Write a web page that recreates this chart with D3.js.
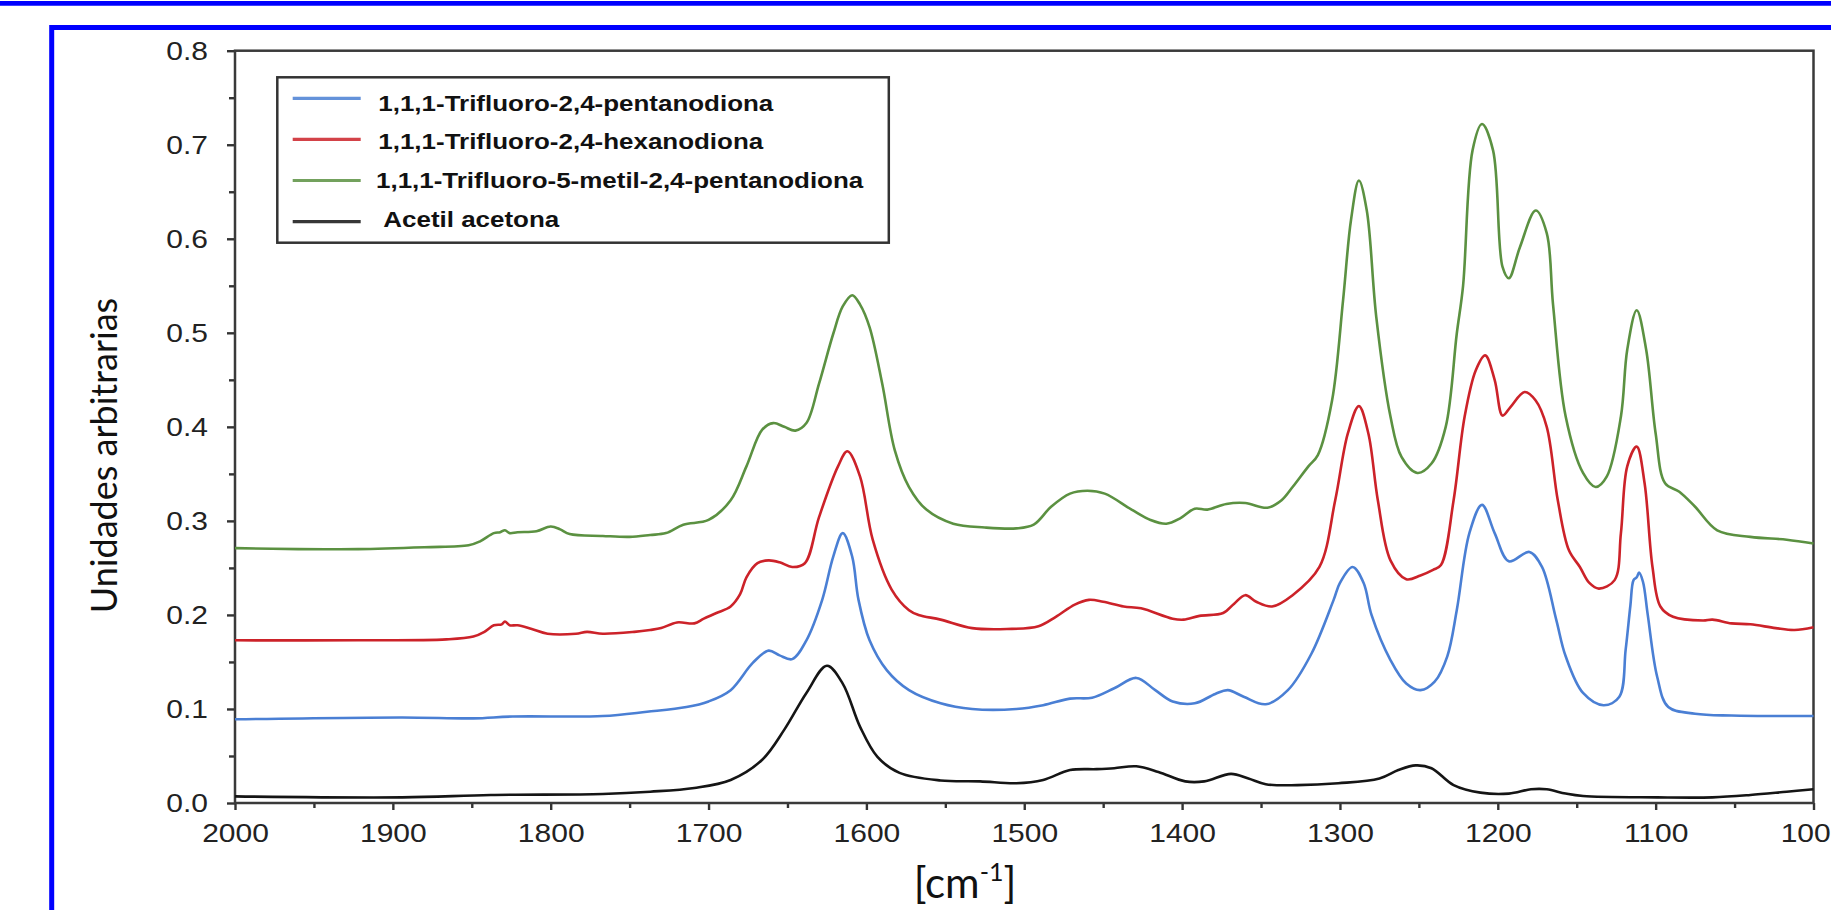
<!DOCTYPE html>
<html>
<head>
<meta charset="utf-8">
<script src="https://cdn.jsdelivr.net/npm/d3@7"></script>
<style>
  html, body { margin: 0; padding: 0; background: #ffffff; }
  svg { display: block; }
</style>
</head>
<body>
<svg id="chart" width="1831" height="910"></svg>
<script>
// ---------------- DATA ----------------
const seriesNames = [
  "1,1,1-Trifluoro-2,4-pentanodiona",
  "1,1,1-Trifluoro-2,4-hexanodiona",
  "1,1,1-Trifluoro-5-metil-2,4-pentanodiona",
  "Acetil acetona"
];
const seriesColors = ["#4a7fd4", "#cc2229", "#5b9141", "#151515"];

const xTicks = [2000, 1900, 1800, 1700, 1600, 1500, 1400, 1300, 1200, 1100, 1000];
const xMinorTicks = [1950, 1850, 1750, 1650, 1550, 1450, 1350, 1250, 1150, 1050];
const yTicks = [0, 0.1, 0.2, 0.3, 0.4, 0.5, 0.6, 0.7, 0.8];
const yMinorTicks = [0.05, 0.15, 0.25, 0.35, 0.45, 0.55, 0.65, 0.75];

const xTitle = "[cm";
const xTitleSup = "-1";
const xTitleEnd = "]";
const yTitle = "Unidades arbitrarias";

// [wavenumber cm-1, arbitrary units]
const bluePentanodiona = [
  [2000,0.089],[1894,0.091],[1849,0.090],[1824,0.092],[1767,0.0925],[1739,0.097],[1714,0.102],
  [1700,0.108],[1686,0.120],[1672,0.149],[1662,0.162],[1655,0.157],[1647,0.153],[1638,0.173],
  [1628,0.216],[1621,0.262],[1615,0.287],[1609,0.262],[1605,0.216],[1598,0.173],[1587,0.141],
  [1573,0.120],[1553,0.106],[1533,0.100],[1505,0.100],[1488,0.104],[1471,0.111],[1457,0.112],
  [1443,0.122],[1429,0.133],[1417,0.120],[1406,0.108],[1392,0.106],[1379,0.116],[1371,0.120],
  [1361,0.113],[1347,0.105],[1333,0.120],[1318,0.159],[1304,0.216],[1300,0.234],[1292,0.251],
  [1285,0.234],[1280,0.200],[1268,0.152],[1258,0.127],[1249,0.120],[1240,0.129],[1232,0.156],
  [1226,0.205],[1218,0.287],[1210,0.317],[1202,0.287],[1193,0.257],[1180,0.267],[1172,0.251],
  [1163,0.195],[1157,0.156],[1146,0.117],[1133,0.104],[1123,0.113],[1119,0.163],[1116,0.210],
  [1114,0.237],[1112,0.240],[1110.5,0.245],[1108,0.235],[1105,0.200],[1099,0.134],[1092,0.102],
  [1075,0.095],[1052,0.093],[1000,0.0925]
];

const redHexanodiona = [
  [2000,0.173],[1922,0.173],[1866,0.174],[1849,0.177],[1842,0.182],[1836,0.189],[1831,0.190],
  [1829,0.193],[1826,0.189],[1821,0.189],[1812,0.185],[1802,0.180],[1784,0.180],[1777,0.182],
  [1767,0.180],[1747,0.182],[1737,0.184],[1730,0.186],[1720,0.192],[1709,0.191],[1703,0.196],
  [1695,0.202],[1686,0.209],[1680,0.222],[1676,0.240],[1669,0.255],[1662,0.258],[1655,0.256],
  [1647,0.251],[1639,0.255],[1630,0.304],[1618,0.358],[1612,0.374],[1604,0.347],[1596,0.280],
  [1584,0.227],[1573,0.205],[1567,0.200],[1553,0.195],[1533,0.186],[1511,0.185],[1491,0.188],
  [1480,0.198],[1468,0.211],[1459,0.216],[1450,0.214],[1437,0.209],[1426,0.207],[1406,0.196],
  [1399,0.195],[1389,0.199],[1374,0.202],[1367,0.212],[1360,0.221],[1353,0.214],[1343,0.209],
  [1330,0.221],[1313,0.251],[1303,0.322],[1295,0.393],[1288,0.422],[1282,0.393],[1276,0.322],
  [1268,0.258],[1258,0.238],[1249,0.242],[1241,0.248],[1236,0.253],[1228,0.322],[1221,0.411],
  [1214,0.460],[1208,0.476],[1202,0.450],[1197,0.412],[1192,0.421],[1183,0.437],[1176,0.428],
  [1169,0.400],[1162,0.322],[1155,0.269],[1148,0.251],[1142,0.234],[1136,0.228],[1126,0.237],
  [1122,0.287],[1118,0.358],[1112,0.379],[1107,0.340],[1102,0.251],[1097,0.209],[1089,0.198],
  [1070,0.194],[1064,0.195],[1052,0.191],[1040,0.190],[1024,0.186],[1012,0.184],[1000,0.187]
];

const greenMetilPentanodiona = [
  [2000,0.271],[1960,0.270],[1922,0.270],[1880,0.272],[1852,0.274],[1845,0.278],[1836,0.287],
  [1832,0.288],[1829,0.290],[1826,0.287],[1821,0.288],[1809,0.289],[1800,0.294],[1794,0.291],
  [1788,0.286],[1767,0.284],[1750,0.283],[1737,0.285],[1727,0.287],[1716,0.296],[1700,0.301],
  [1686,0.322],[1676,0.358],[1666,0.397],[1659,0.404],[1652,0.400],[1645,0.396],[1638,0.404],
  [1630,0.446],[1621,0.499],[1615,0.528],[1609,0.540],[1604,0.530],[1598,0.506],[1590,0.446],
  [1582,0.375],[1573,0.336],[1562,0.312],[1545,0.297],[1525,0.293],[1505,0.292],[1494,0.296],
  [1483,0.315],[1471,0.329],[1460,0.332],[1449,0.329],[1432,0.312],[1420,0.301],[1410,0.297],
  [1401,0.303],[1392,0.313],[1384,0.312],[1372,0.318],[1360,0.319],[1346,0.314],[1337,0.322],
  [1330,0.336],[1320,0.358],[1314,0.370],[1305,0.428],[1298,0.535],[1293,0.620],[1288,0.662],
  [1283,0.630],[1277,0.517],[1268,0.411],[1261,0.368],[1251,0.351],[1242,0.361],[1233,0.400],
  [1226,0.499],[1222,0.550],[1216,0.694],[1210,0.722],[1203,0.694],[1197,0.570],[1193,0.558],
  [1186,0.591],[1176,0.630],[1169,0.606],[1165,0.530],[1157,0.411],[1146,0.351],[1138,0.336],
  [1131,0.347],[1122,0.411],[1118,0.482],[1112,0.524],[1106,0.482],[1100,0.393],[1094,0.340],
  [1085,0.331],[1075,0.315],[1061,0.290],[1040,0.283],[1017,0.280],[1000,0.276]
];

const blackAcetilAcetona = [
  [2000,0.007],[1894,0.006],[1838,0.0085],[1767,0.0096],[1737,0.012],[1709,0.016],[1686,0.0245],
  [1666,0.046],[1652,0.078],[1638,0.117],[1625,0.146],[1615,0.127],[1604,0.081],[1593,0.049],
  [1579,0.032],[1553,0.024],[1528,0.023],[1505,0.021],[1488,0.0245],[1471,0.035],[1454,0.036],
  [1443,0.037],[1429,0.039],[1415,0.033],[1398,0.023],[1386,0.023],[1369,0.031],[1358,0.026],
  [1347,0.020],[1327,0.019],[1301,0.021],[1275,0.026],[1263,0.035],[1252,0.040],[1242,0.037],
  [1228,0.019],[1211,0.011],[1193,0.010],[1179,0.0146],[1169,0.0146],[1157,0.010],[1146,0.0074],
  [1099,0.006],[1064,0.006],[1040,0.0085],[1017,0.012],[1000,0.0146]
];

const seriesData = [bluePentanodiona, redHexanodiona, greenMetilPentanodiona, blackAcetilAcetona];

// ---------------- DRAWING ----------------
const W = 1831, H = 910;
const svg = d3.select("#chart");
const STRETCH = 1.2; // the original picture is stretched horizontally
const tickFont = "'Liberation Sans', Arial, sans-serif";

svg.append("rect").attr("width", W).attr("height", H).attr("fill", "#ffffff");

// blue slide frame
svg.append("line").attr("x1", 0).attr("x2", W).attr("y1", 3.3).attr("y2", 3.3)
  .attr("stroke", "#0000ff").attr("stroke-width", 4.7);
svg.append("path").attr("d", `M51.7,${H + 10} V27.5 H${W + 10}`)
  .attr("fill", "none").attr("stroke", "#0000ff").attr("stroke-width", 5);

const x = d3.scaleLinear().domain([2000, 1000]).range([235, 1813.5]);
const y = d3.scaleLinear().domain([0, 0.8]).range([803, 50.7]);

// y axis major
const gy = svg.append("g").attr("transform", `translate(${x(2000)},0)`)
  .call(d3.axisLeft(y).tickValues(yTicks).tickSize(8).tickFormat(d3.format(".1f")));
gy.select(".domain").remove();
gy.selectAll(".tick line").attr("stroke", "#333").attr("stroke-width", 2.4);
gy.selectAll(".tick text")
  .attr("font-family", tickFont).attr("font-size", 25).attr("fill", "#222")
  .attr("x", -27 / STRETCH).attr("dy", "0.35em")
  .attr("transform", `scale(${STRETCH},1)`);

// y axis minor
const gym = svg.append("g").attr("transform", `translate(${x(2000)},0)`)
  .call(d3.axisLeft(y).tickValues(yMinorTicks).tickSize(6).tickFormat(""));
gym.select(".domain").remove();
gym.selectAll(".tick line").attr("stroke", "#333").attr("stroke-width", 2.4);

// x axis major
const gx = svg.append("g").attr("transform", `translate(0,${y(0)})`)
  .call(d3.axisBottom(x).tickValues(xTicks).tickSize(7).tickFormat(d3.format("d")));
gx.select(".domain").remove();
gx.selectAll(".tick line").attr("stroke", "#333").attr("stroke-width", 2.4);
gx.selectAll(".tick text")
  .attr("font-family", tickFont).attr("font-size", 25).attr("fill", "#222")
  .attr("y", 21).attr("dy", "0.71em")
  .attr("transform", `scale(${STRETCH},1)`);

// x axis minor
const gxm = svg.append("g").attr("transform", `translate(0,${y(0)})`)
  .call(d3.axisBottom(x).tickValues(xMinorTicks).tickSize(5).tickFormat(""));
gxm.select(".domain").remove();
gxm.selectAll(".tick line").attr("stroke", "#333").attr("stroke-width", 2.4);

// plot frame
svg.append("rect")
  .attr("x", x(2000)).attr("y", y(0.8))
  .attr("width", x(1000) - x(2000)).attr("height", y(0) - y(0.8))
  .attr("fill", "none").attr("stroke", "#3a3a3a").attr("stroke-width", 2.5);

// spectra
const line = d3.line()
  .x(d => x(d[0])).y(d => y(d[1]))
  .curve(d3.curveCatmullRom.alpha(0.5));

const drawOrder = [3, 0, 1, 2];
drawOrder.forEach(i => {
  svg.append("path")
    .datum(seriesData[i])
    .attr("d", line)
    .attr("fill", "none")
    .attr("stroke", seriesColors[i])
    .attr("stroke-width", 2.6)
    .attr("stroke-linejoin", "round");
});

// legend
const legend = svg.append("g");
legend.append("rect")
  .attr("x", 277.3).attr("y", 77.3).attr("width", 611.5).attr("height", 165.4)
  .attr("fill", "#ffffff").attr("stroke", "#333").attr("stroke-width", 2.5);
const legendTextX = [378.3, 378.3, 376, 383.3];
seriesNames.forEach((name, i) => {
  const ly = 98.3 + i * 41.1;
  legend.append("line")
    .attr("x1", 292.7).attr("x2", 360.7).attr("y1", ly).attr("y2", ly)
    .attr("stroke", seriesColors[i]).attr("stroke-width", 3.2).attr("opacity", 0.85);
  legend.append("text")
    .attr("transform", `translate(${legendTextX[i]},${110.7 + i * 38.7}) scale(1.18,1)`)
    .attr("font-family", tickFont).attr("font-weight", "bold")
    .attr("font-size", 22).attr("fill", "#111")
    .text(name);
});

// axis titles
svg.append("text")
  .attr("transform", "translate(117,455.5) rotate(-90)")
  .attr("text-anchor", "middle")
  .attr("font-family", "Lato, 'Open Sans', sans-serif")
  .attr("font-size", 36).attr("fill", "#111")
  .text(yTitle);

const xt = svg.append("text")
  .attr("x", 965).attr("y", 898)
  .attr("text-anchor", "middle")
  .attr("font-family", "Lato, 'Open Sans', sans-serif")
  .attr("font-size", 42).attr("fill", "#111");
xt.append("tspan").text(xTitle);
xt.append("tspan").attr("dy", -17).attr("font-size", 25).text(xTitleSup);
xt.append("tspan").attr("dy", 17).attr("font-size", 42).text(xTitleEnd);
</script>
</body>
</html>
